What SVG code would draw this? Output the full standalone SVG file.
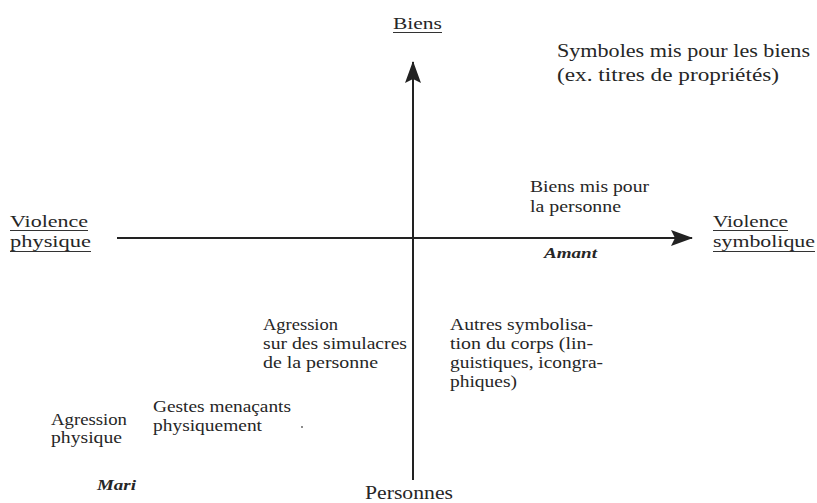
<svg xmlns="http://www.w3.org/2000/svg" width="817" height="503" viewBox="0 0 817 503">
<defs>
<style>
text{font-family:"Liberation Serif",Tinos,"Noto Serif","DejaVu Serif",FreeSerif,"Nimbus Roman","Nimbus Roman No9 L","Times New Roman",Times,serif;fill:#262626;font-size:16px}
.lbl{font-size:17px}
.big{font-size:18px}
.it{font-style:italic;font-weight:bold;font-size:15px}
.ax{stroke:#222;stroke-width:2;fill:none}
.ul{stroke:#333;stroke-width:1.2}
</style>
<marker id="ah" viewBox="0 0 22 16" refX="21" refY="8" markerWidth="22" markerHeight="16" markerUnits="userSpaceOnUse" orient="auto">
<path d="M0,0 L22,8 L0,16 L4,8 Z" fill="#222"/>
</marker>
</defs>
<rect width="817" height="503" fill="#fff"/>
<g id="connectors">
<line class="ax" x1="413" y1="480" x2="413" y2="62" marker-end="url(#ah)"/>
<line class="ax" x1="117" y1="238" x2="692" y2="238" marker-end="url(#ah)"/>
</g>
<g id="biens">
<text class="lbl" x="393" y="29" textLength="49" lengthAdjust="spacingAndGlyphs">Biens</text>
<line class="ul" x1="393" y1="32.5" x2="442" y2="32.5"/>
</g>
<g id="personnes">
<text class="big" x="365" y="499" textLength="88" lengthAdjust="spacingAndGlyphs">Personnes</text>
</g>
<g id="violence-physique">
<text class="lbl" x="10" y="227" textLength="78" lengthAdjust="spacingAndGlyphs">Violence</text>
<line class="ul" x1="10" y1="230.5" x2="88" y2="230.5"/>
<text class="lbl" x="10" y="247" textLength="81" lengthAdjust="spacingAndGlyphs">physique</text>
<line class="ul" x1="10" y1="251.5" x2="91" y2="251.5"/>
</g>
<g id="violence-symbolique">
<text class="lbl" x="713" y="227" textLength="75" lengthAdjust="spacingAndGlyphs">Violence</text>
<line class="ul" x1="713" y1="230.5" x2="788" y2="230.5"/>
<text class="lbl" x="713" y="247" textLength="102" lengthAdjust="spacingAndGlyphs">symbolique</text>
<line class="ul" x1="713" y1="251.5" x2="815" y2="251.5"/>
</g>
<g id="symboles">
<text class="big" x="557" y="57" textLength="253" lengthAdjust="spacingAndGlyphs">Symboles mis pour les biens</text>
<text class="big" x="557" y="81" textLength="222" lengthAdjust="spacingAndGlyphs">(ex. titres de propriétés)</text>
</g>
<g id="biens-mis">
<text x="530" y="192" textLength="119" lengthAdjust="spacingAndGlyphs">Biens mis pour</text>
<text x="530" y="212" textLength="91" lengthAdjust="spacingAndGlyphs">la personne</text>
</g>
<g id="amant">
<text class="it" x="544" y="258" textLength="53" lengthAdjust="spacingAndGlyphs">Amant</text>
</g>
<g id="agression-simulacres">
<text x="263" y="330" textLength="75" lengthAdjust="spacingAndGlyphs">Agression</text>
<text x="263" y="349" textLength="144" lengthAdjust="spacingAndGlyphs">sur des simulacres</text>
<text x="263" y="368" textLength="115" lengthAdjust="spacingAndGlyphs">de la personne</text>
</g>
<g id="autres">
<text x="450" y="330" textLength="143" lengthAdjust="spacingAndGlyphs">Autres symbolisa-</text>
<text x="450" y="349" textLength="143" lengthAdjust="spacingAndGlyphs">tion du corps (lin-</text>
<text x="450" y="368" textLength="153" lengthAdjust="spacingAndGlyphs">guistiques, icongra-</text>
<text x="450" y="387" textLength="67" lengthAdjust="spacingAndGlyphs">phiques)</text>
</g>
<g id="gestes">
<text x="153" y="412" textLength="138" lengthAdjust="spacingAndGlyphs">Gestes menaçants</text>
<text x="153" y="431" textLength="109" lengthAdjust="spacingAndGlyphs">physiquement</text>
</g>
<g id="agression-physique">
<text x="51" y="425" textLength="76" lengthAdjust="spacingAndGlyphs">Agression</text>
<text x="51" y="443" textLength="71" lengthAdjust="spacingAndGlyphs">physique</text>
</g>
<g id="mari">
<text class="it" x="97" y="490" textLength="39" lengthAdjust="spacingAndGlyphs">Mari</text>
</g>
<circle cx="302" cy="427" r="0.9" fill="#555"/>
</svg>
